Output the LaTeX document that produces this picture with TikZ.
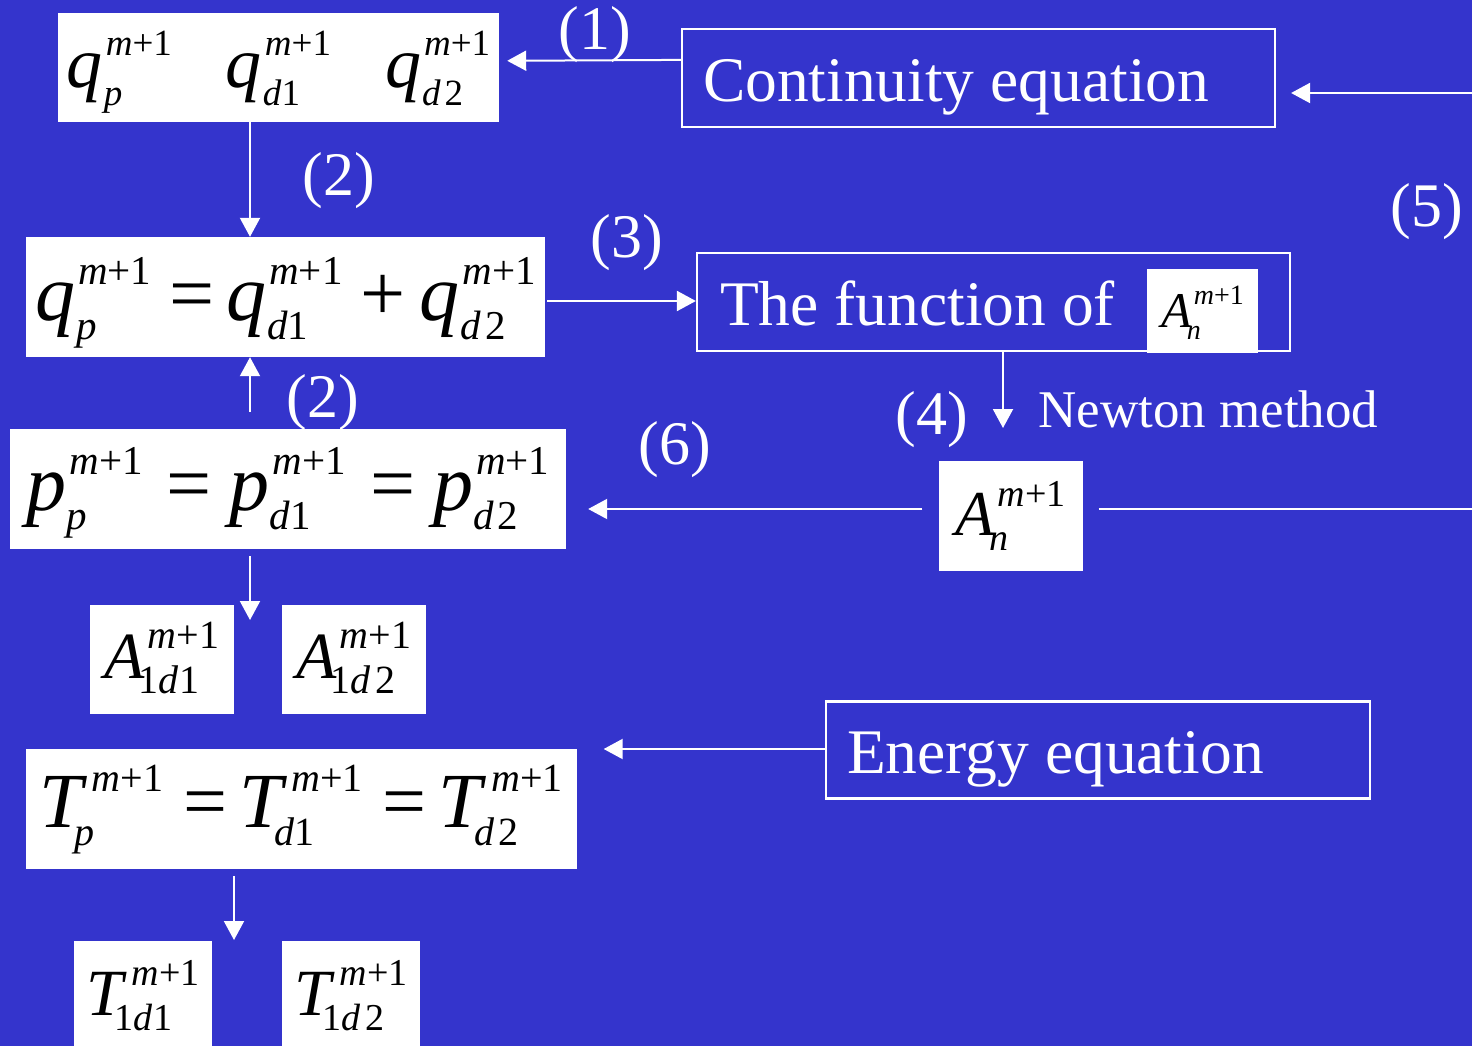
\documentclass[tikz,border=0pt]{standalone}
\usepackage{fontspec}
\setmainfont{Liberation Serif}
\usetikzlibrary{arrows.meta,calc}
\definecolor{bg}{RGB}{52,52,204}
\newcommand\scrsz{36}
\newcommand\fs[2]{\fontsize{#1}{#1}\selectfont\renewcommand\scrsz{#2}}
\newcommand\scr{\fontsize{\scrsz}{\scrsz}\selectfont}
\newcommand\mpo{\textit{m}+1}
% #1 sup kern, #2 sub kern, #3 base, #4 sup, #5 sub
\newcommand\SVg[5]{%
  {\itshape #3}%
  \setbox0=\hbox{\kern#1\scr #4}%
  \setbox2=\hbox{\kern#2\scr #5}%
  \dimen0=\wd0 \ifdim\wd2>\dimen0 \dimen0=\wd2 \fi
  \hbox to\dimen0{\rlap{\raise0.45em\box0}\lower0.24em\box2\hfil}}
\newcommand\Q[1]{\SVg{3pt}{1pt}{q}{\mpo}{#1}}
\newcommand\PP[1]{\SVg{3pt}{0pt}{p}{\mpo}{#1}}
\newcommand\TV[1]{\SVg{9pt}{-8pt}{T}{\mpo}{#1}}
\newcommand\AV[1]{\SVg{3pt}{-6pt}{A}{\mpo}{#1}}
\newcommand\dd{\textit{d}\kern4pt 2}
\begin{document}
\begin{tikzpicture}[x=1pt,y=-1pt,
  wbox/.style={fill=white, inner sep=0pt, text=black, text depth=0pt},
  obox/.style={draw=white, line width=2.2pt, inner sep=0pt, text=white, text depth=0pt},
  lab/.style={text=white, font=\fontsize{62}{62}\selectfont, inner sep=0pt},
  arr/.style={draw=white, line width=2pt, -{Triangle[length=19pt,width=20pt]}},
  ln/.style={draw=white, line width=2pt}]
\fill[bg] (0,0) rectangle (1472,1046);
\useasboundingbox (0,0) rectangle (1472,1046);

% white formula boxes
\node[wbox, minimum width=441pt, minimum height=109pt, text height=41pt] (qA) at (278.5,67.5)
  {\fs{72}{37}\Q{\textit{p}}\hspace{54pt}\Q{\textit{d}1}\hspace{54pt}\Q{\dd}};
\node[wbox, minimum width=519pt, minimum height=120pt, text height=46pt] (qB) at (285.5,297)
  {\fs{80}{41}\Q{\textit{p}}\kern18pt=\kern12pt\Q{\textit{d}1}\kern18pt+\kern14pt\Q{\dd}};
\node[wbox, minimum width=556pt, minimum height=120pt, text height=42pt] (pC) at (288,489)
  {\fs{80}{41}\PP{\textit{p}}\kern24pt=\kern18pt\PP{\textit{d}1}\kern24pt=\kern18pt\PP{\dd}};
\node[wbox, minimum width=144pt, minimum height=109pt, text height=37pt] (A1) at (162,659.5)
  {\fs{66}{40}\AV{1\textit{d}1}};
\node[wbox, minimum width=144pt, minimum height=109pt, text height=37pt] (A2) at (354,659.5)
  {\fs{66}{40}\AV{1\dd}};
\node[wbox, minimum width=551pt, minimum height=120pt, text height=36pt] (TT) at (301,809)
  {\fs{78}{40}\TV{\textit{p}}\kern20pt=\kern12pt\TV{\textit{d}1}\kern20pt=\kern12pt\TV{\dd}};
\node[wbox, minimum width=138pt, minimum height=110pt, text height=38pt] (T1) at (143,996)
  {\fs{66}{38}\TV{1\textit{d}1}};
\node[wbox, minimum width=138pt, minimum height=110pt, text height=38pt] (T2) at (351,996)
  {\fs{66}{38}\TV{1\dd}};
\node[wbox, minimum width=144pt, minimum height=110pt, text height=38pt] (An) at (1010.5,516)
  {\fs{64}{38}\SVg{3pt}{-5pt}{A}{\mpo}{\textit{n}}};

% outlined text boxes
\node[obox, minimum width=593pt, minimum height=98pt, text height=48pt] (cont) at (978.5,78)
  {\makebox[551pt][l]{\fontsize{63.5}{63.5}\selectfont Continuity equation}};
\node[obox, minimum width=593pt, minimum height=98pt, text height=46pt] (fun) at (993.5,302)
  {\makebox[547pt][l]{\fontsize{63.5}{63.5}\selectfont The function of}};
\node[wbox, minimum width=111pt, minimum height=84pt, text height=32pt] (anS) at (1202.5,311)
  {\fs{50}{28}\SVg{2pt}{-5pt}{A}{\mpo}{\textit{n}}};
\node[obox, minimum width=544pt, minimum height=97pt, text height=47pt] (en) at (1098,750)
  {\makebox[502pt][l]{\fontsize{63.5}{63.5}\selectfont Energy equation}};

% labels
\node[lab] (l1) at (595,35) {(1)};
\node[lab] (l2a) at (339,181) {(2)};
\node[lab] (l3) at (627,243) {(3)};
\node[lab] (l5) at (1427,212) {(5)};
\node[lab] (l2b) at (323,403) {(2)};
\node[lab] (l4) at (932,420) {(4)};
\node[lab] (l6) at (675,450) {(6)};
\node[text=white, anchor=base west, font=\fontsize{53}{53}\selectfont, inner sep=0pt] (nm) at (1038,427) {Newton method};

% connectors
\coordinate (cx2) at (250,0);
\coordinate (r5) at (1472,93);
\coordinate (c4) at (1003,428);
\coordinate (r6) at (1472,509);
\coordinate (c7) at (250,620);
\coordinate (c8) at (234,940);
\draw[arr] ($(cont.north west)+(0,32)$) -- ($(qA.north east)+(8,48)$);
\draw[arr] (r5) -- ($(cont.east |- r5)+(15,0)$);
\draw[arr] (qA.south -| cx2) -- (qB.north -| cx2);
\draw[arr] ($(qB.east)+(2,4)$) -- ($(fun.west |- qB.east)+(0,4)$);
\draw[arr] (fun.south -| c4) -- (c4);
\draw[arr] ($(An.west)+(-16,-7)$) -- ($(pC.east |- An.west)+(22,-7)$);
\draw[ln] ($(An.east)+(16,-7)$) -- (r6);
\draw[arr] ($(pC.north -| cx2)+(0,-17)$) -- (qB.south -| cx2);
\draw[arr] ($(pC.south -| cx2)+(0,7)$) -- (c7);
\draw[arr] ($(en.west)+(0,-1)$) -- ($(TT.east |- en.west)+(27,-1)$);
\draw[arr] ($(TT.south -| c8)+(0,7)$) -- (c8);
\end{tikzpicture}
\end{document}
